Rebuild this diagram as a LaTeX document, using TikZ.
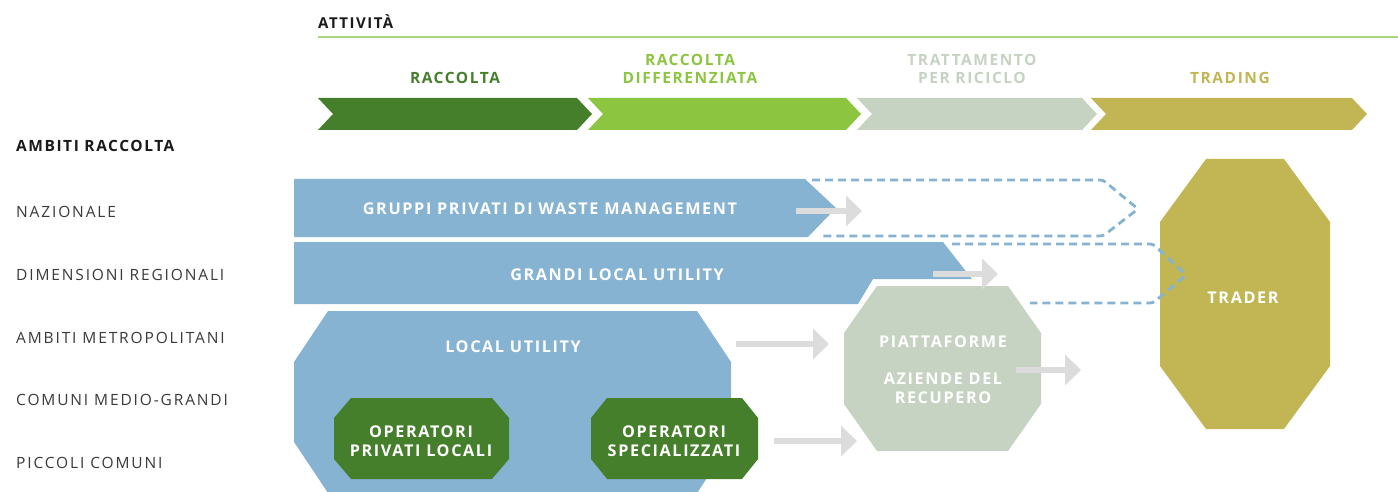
\documentclass[tikz,border=0pt]{standalone}
\usepackage{fontspec}
\setmainfont{Open Sans}
\newfontfamily\headfont{Open Sans}[LetterSpace=10]
\newfontfamily\rowfont{Open Sans}[LetterSpace=12]
\usetikzlibrary{arrows.meta}

\definecolor{blu}{HTML}{87B3D3}
\definecolor{dkgreen}{HTML}{467F2C}
\definecolor{ltgreen}{HTML}{8CC540}
\definecolor{pale}{HTML}{C6D3C2}
\definecolor{olive}{HTML}{C1B653}
\definecolor{arrowgray}{HTML}{DCDCDC}
\definecolor{rulegreen}{HTML}{A7D67F}
\definecolor{rowgray}{HTML}{3A3A3A}
\definecolor{titleblack}{HTML}{1A1A1A}

% octagon with chamfered corners: colour, left, top, right, bottom, dx, dy
\newcommand{\octagonfill}[7]{%
  \fill[#1] ({#2+#6},#3) -- ({#4-#6},#3) -- (#4,{#3+#7}) -- (#4,{#5-#7})
    -- ({#4-#6},#5) -- ({#2+#6},#5) -- (#2,{#5-#7}) -- (#2,{#3+#7}) -- cycle;}
% chevron of the activity bar: colour, left, right
\newcommand{\phasebar}[3]{%
  \fill[#1] (#2,98) -- (#3,98) -- ({#3+15},114) -- (#3,130) -- (#2,130)
    -- ({#2+15},114) -- cycle;}

\tikzset{
  boxlabel/.style={text=white, inner sep=0, align=center,
    font=\headfont\bfseries\fontsize{16.2}{19}\selectfont},
  phaselabel/.style={inner sep=0, align=center,
    font=\headfont\bfseries\fontsize{15.5}{18}\selectfont},
  rowlabel/.style={anchor=west, inner sep=0, text=rowgray,
    font=\rowfont\fontsize{15.5}{18}\selectfont},
  headlabel/.style={anchor=west, inner sep=0, text=titleblack,
    font=\headfont\bfseries\fontsize{15.5}{18}\selectfont},
  flow/.style={draw=arrowgray, line width=6pt,
    -{Triangle[width=30pt,length=16pt]}},
  dashedroute/.style={draw=blu, line width=2.8pt,
    dash pattern=on 8pt off 5pt, rounded corners=3pt},
}

\begin{document}
\begin{tikzpicture}[x=1pt,y=-1pt]
\useasboundingbox (0,0) rectangle (1398,492);

% activity header
\node[anchor=base west, inner sep=0, text=titleblack,
  font=\headfont\bfseries\fontsize{15}{17}\selectfont] (attivita) at (318,28.5) {ATTIVITÀ};
\draw[rulegreen, line width=1.5pt] (318,37) -- (1398,37);

\phasebar{dkgreen}{318}{577}
\phasebar{ltgreen}{588}{846}
\phasebar{pale}{857}{1082}
\phasebar{olive}{1091}{1352}

\node[phaselabel, text=dkgreen] (p1) at (455,78) {RACCOLTA};
\node[phaselabel, text=ltgreen] (p2) at (690,69) {RACCOLTA\\DIFFERENZIATA};
\node[phaselabel, text=pale] (p3) at (972,69) {TRATTAMENTO\\PER RICICLO};
\node[phaselabel, text=olive] (p4) at (1230,78) {TRADING};

% collection scope rows
\node[headlabel] (ambiti) at (16,145.5) {AMBITI RACCOLTA};
\node[rowlabel] (r1) at (16,211.5) {NAZIONALE};
\node[rowlabel] (r2) at (16,274.5) {DIMENSIONI REGIONALI};
\node[rowlabel] (r3) at (16,337.5) {AMBITI METROPOLITANI};
\node[rowlabel] (r4) at (16,400) {COMUNI MEDIO-GRANDI};
\node[rowlabel] (r5) at (16,463) {PICCOLI COMUNI};

% operators
\fill[blu] (294,179) -- (805,179) -- (836,208) -- (808,237) -- (294,237) -- cycle;
\fill[blu] (294,242) -- (943,242) -- (972,279) -- (873,279) -- (858,304) -- (294,304) -- cycle;
\octagonfill{blu}{294}{311}{731}{493}{34}{51}
\octagonfill{dkgreen}{334}{398}{509}{479}{17}{20}
\octagonfill{dkgreen}{591}{398}{758}{479}{16}{20}
\octagonfill{pale}{844}{286}{1041}{451}{33}{47}
\octagonfill{olive}{1160}{159}{1330}{429}{46}{63}

% dashed reach towards the trader
\draw[dashedroute] (812,180) -- (1103,180) -- (1138,209) -- (1103,236) -- (820,236);
\draw[dashedroute] (952,244) -- (1153,244) -- (1186,275) -- (1153,303) -- (1030,303);

% flows
\coordinate (f1s) at (796,211); \coordinate (f1e) at (862,211);
\coordinate (f2s) at (933,274); \coordinate (f2e) at (998,274);
\coordinate (f3s) at (736,344); \coordinate (f3e) at (829,344);
\coordinate (f4s) at (1016,370); \coordinate (f4e) at (1081,370);
\coordinate (f5s) at (774,441); \coordinate (f5e) at (857,441);
\draw[flow] (f1s) -- (f1e);
\draw[flow] (f2s) -- (f2e);
\draw[flow] (f3s) -- (f3e);
\draw[flow] (f4s) -- (f4e);
\draw[flow] (f5s) -- (f5e);

% labels
\node[boxlabel] (gruppi) at (550,209) {GRUPPI PRIVATI DI WASTE MANAGEMENT};
\node[boxlabel] (grandi) at (617,275) {GRANDI LOCAL UTILITY};
\node[boxlabel] (local) at (513,347) {LOCAL UTILITY};
\node[boxlabel] (privati) at (421,441.5) {OPERATORI\\PRIVATI LOCALI};
\node[boxlabel] (special) at (674,441.5) {OPERATORI\\SPECIALIZZATI};
\node[boxlabel] (piatt) at (943,369.5) {PIATTAFORME\\[18pt]AZIENDE DEL\\RECUPERO};
\node[boxlabel] (trader) at (1243,298) {TRADER};
\end{tikzpicture}
\end{document}
